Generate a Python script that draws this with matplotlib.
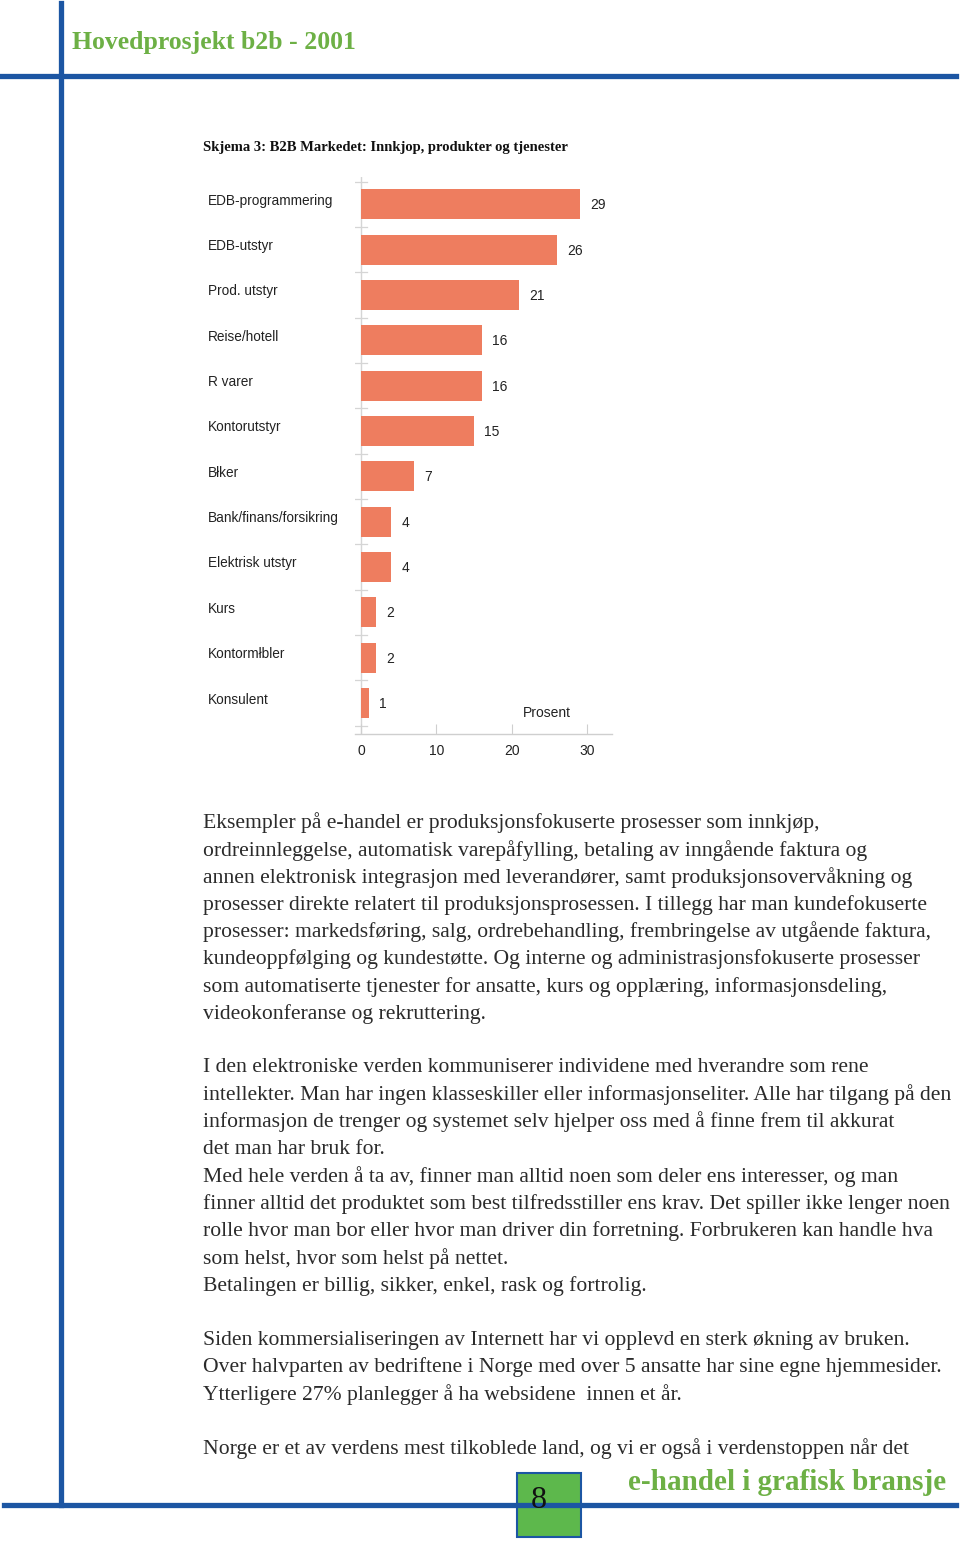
import matplotlib
matplotlib.use("Agg")
import matplotlib.pyplot as plt
import matplotlib.transforms as mtransforms
from matplotlib.patches import Rectangle
from matplotlib.lines import Line2D

categories = ["EDB-programmering", "EDB-utstyr", "Prod. utstyr", "Reise/hotell",
              "R varer", "Kontorutstyr", "Błker", "Bank/finans/forsikring",
              "Elektrisk utstyr", "Kurs", "Kontormłbler", "Konsulent"]
values = [29, 26, 21, 16, 16, 15, 7, 4, 4, 2, 2, 1]
xticks = [0, 10, 20, 30]

header = "Hovedprosjekt b2b - 2001"
chart_title = "Skjema 3: B2B Markedet: Innkjop, produkter og tjenester"
footer = "e-handel i grafisk bransje"
page_no = "8"

body_lines = [
    ("Eksempler på e-handel er produksjonsfokuserte prosesser som innkjøp,", 821),
    ("ordreinnleggelse, automatisk varepåfylling, betaling av inngående faktura og", 849),
    ("annen elektronisk integrasjon med leverandører, samt produksjonsovervåkning og", 876),
    ("prosesser direkte relatert til produksjonsprosessen. I tillegg har man kundefokuserte", 903),
    ("prosesser: markedsføring, salg, ordrebehandling, frembringelse av utgående faktura,", 930),
    ("kundeoppfølging og kundestøtte. Og interne og administrasjonsfokuserte prosesser", 957),
    ("som automatiserte tjenester for ansatte, kurs og opplæring, informasjonsdeling,", 985),
    ("videokonferanse og rekruttering.", 1012),
    ("I den elektroniske verden kommuniserer individene med hverandre som rene", 1066),
    ("intellekter. Man har ingen klasseskiller eller informasjonseliter. Alle har tilgang på den", 1093),
    ("informasjon de trenger og systemet selv hjelper oss med å finne frem til akkurat", 1120),
    ("det man har bruk for.", 1148),
    ("Med hele verden å ta av, finner man alltid noen som deler ens interesser, og man", 1175),
    ("finner alltid det produktet som best tilfredsstiller ens krav. Det spiller ikke lenger noen", 1202),
    ("rolle hvor man bor eller hvor man driver din forretning. Forbrukeren kan handle hva", 1229),
    ("som helst, hvor som helst på nettet.", 1257),
    ("Betalingen er billig, sikker, enkel, rask og fortrolig.", 1284),
    ("Siden kommersialiseringen av Internett har vi opplevd en sterk økning av bruken.", 1338),
    ("Over halvparten av bedriftene i Norge med over 5 ansatte har sine egne hjemmesider.", 1365),
    ("Ytterligere 27% planlegger å ha websidene  innen et år.", 1393),
    ("Norge er et av verdens mest tilkoblede land, og vi er også i verdenstoppen når det", 1447),
]

W, H = 960, 1541
fig = plt.figure(figsize=(W / 100, H / 100), dpi=100)
fig.patch.set_facecolor("white")

BLUE = "#1C56A3"
GREEN = "#6DB045"
BAR = "#EE7D5F"
TXT = "#2b2b2b"

def fx(px):
    return px / W

def fy(py):
    return 1 - py / H

# Page frame lines
fig.add_artist(Line2D([fx(61), fx(61)], [fy(3), fy(1505)], color=BLUE, lw=3.8, transform=fig.transFigure))
fig.add_artist(Line2D([fx(0), fx(956)], [fy(76), fy(76)], color=BLUE, lw=3.8, transform=fig.transFigure))
fig.add_artist(Line2D([fx(4), fx(956)], [fy(1505), fy(1505)], color=BLUE, lw=3.8, transform=fig.transFigure))

fig.text(fx(72), fy(42), header, color=GREEN, fontsize=18.5, fontweight="bold",
         family="Liberation Serif", ha="left", va="center")

fig.text(fx(203), fy(148), chart_title, color="#111111", fontsize=10.5, fontweight="bold",
         family="Liberation Serif", ha="left", va="center")

# Chart
ax = fig.add_axes([fx(355), fy(734), fx(612) - fx(355), fy(177) - fy(734)])
ypos = list(range(len(categories)))
ax.barh(ypos, values, height=0.66, color=BAR, zorder=2)
ax.set_xlim(-0.8, 33.3)
ax.set_ylim(11.68, -0.6)
for s in ["top", "right", "left"]:
    ax.spines[s].set_visible(False)
ax.spines["bottom"].set_color("#cfcfcf")
ax.spines["bottom"].set_linewidth(1.0)
ax.axvline(0, color="#d5d5d5", lw=1.0, zorder=1)
for b in [i - 0.5 for i in range(len(categories))] + [len(categories) - 0.5]:
    ax.plot([-0.8, 0.8], [b, b], color="#d5d5d5", lw=0.9, zorder=1)
ax.set_yticks([])
ax.set_xticks(xticks)
ax.set_xticklabels([str(t) for t in xticks], fontsize=10, color="#222222",
                   family="Liberation Sans")
ax.tick_params(axis="x", direction="in", length=7, color="#cfcfcf", pad=7)
ax.patch.set_alpha(0)

lab_tr = mtransforms.blended_transform_factory(fig.transFigure, ax.transData)
for i, (c, v) in enumerate(zip(categories, values)):
    ax.text(fx(208), i - 0.08, c, transform=lab_tr, ha="left", va="center",
            fontsize=9.8, color="#222222", family="Liberation Sans")
    off = 11 + 3.5 * len(str(v))
    ax.annotate(str(v), xy=(v, i), xytext=(off, -1), textcoords="offset pixels",
                ha="center", va="center", fontsize=10,
                color="#222222", family="Liberation Sans")

ax.text(fx(547), fy(713), "Prosent", transform=fig.transFigure, ha="center", va="center",
        fontsize=10, color="#222222", family="Liberation Sans")

# Body text
for line, y in body_lines:
    fig.text(fx(203), fy(y + 2), line, ha="left", va="center", fontsize=15.6,
             color=TXT, family="Liberation Serif")

# Footer
fig.text(fx(946), fy(1482), footer, color=GREEN, fontsize=21, fontweight="bold",
         family="Liberation Serif", ha="right", va="center")
box = Rectangle((fx(517), fy(1537)), fx(581) - fx(517), fy(1473) - fy(1537),
                transform=fig.transFigure, facecolor="#5DB84C", edgecolor=BLUE, lw=1.5)
fig.add_artist(box)
fig.text(fx(539), fy(1501), page_no, color="#111111", fontsize=23,
         family="Liberation Serif", ha="center", va="center")

fig.savefig("out.png", dpi=100, facecolor="white")
